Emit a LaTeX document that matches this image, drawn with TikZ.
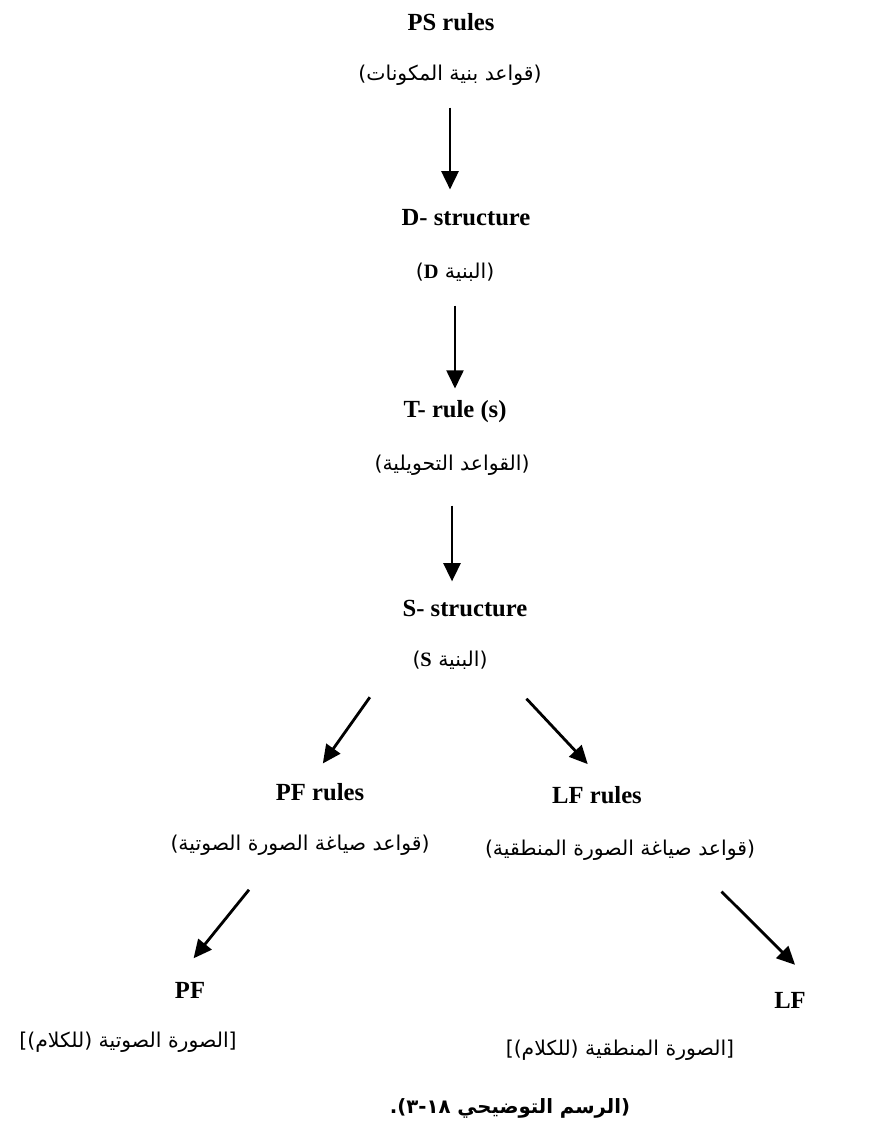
\documentclass[tikz,border=0pt]{standalone}
\usepackage{fontspec}
\setmainfont{Liberation Serif}
\newfontfamily\arabicfont[Script=Arabic]{DejaVu Sans}
\TeXXeTstate=1
\usetikzlibrary{arrows.meta, positioning, calc}

\newcommand{\lat}[1]{\beginL{\rmfamily\bfseries #1}\endL{}}

\begin{document}
\begin{tikzpicture}[
    x=0.025cm, y=-0.025cm,
    eng/.style={inner sep=0pt, font=\bfseries\fontsize{17.5}{20}\selectfont},
    ar/.style={inner sep=0pt, font=\arabicfont\fontsize{14.5}{17}\selectfont},
    arrow/.style={line width=2pt, -{Triangle[length=13pt, width=12pt]}}
]
\useasboundingbox (0,0) rectangle (894,1142);

\node (ps) [eng] at (451,22) {PS rules};
\node (psar) [ar] at (450,75) {\beginR(قواعد بنية المكونات)\endR};
\node (dstr) [eng] at (466,218) {D- structure};
\node (dar) [ar] at (455,272) {\beginR(البنية \lat{D})\endR};
\node (trule) [eng] at (455,412) {T- rule (s)};
\node (tar) [ar] at (452,465) {\beginR(القواعد التحويلية)\endR};
\node (sstr) [eng] at (465,608) {S- structure};
\node (sar) [ar] at (450,660) {\beginR(البنية \lat{S})\endR};

\node (pfr) [eng] at (320,792) {PF rules};
\node (pfar) [ar] at (300,845) {\beginR(قواعد صياغة الصورة الصوتية)\endR};
\node (lfr) [eng] at (597,795) {LF rules};
\node (lfar) [ar] at (620,850) {\beginR(قواعد صياغة الصورة المنطقية)\endR};

\node (pf) [eng] at (190,990) {PF};
\node (pfbr) [ar] at (128,1042) {\beginR[الصورة الصوتية (للكلام)]\endR};
\node (lf) [eng] at (790,1000) {LF};
\node (lfbr) [ar] at (620,1050) {\beginR[الصورة المنطقية (للكلام)]\endR};

\node (cap) [ar, font=\arabicfont\bfseries\fontsize{14}{17}\selectfont] at (510,1108)
    {\beginR(الرسم التوضيحي ١٨-٣).\endR};

\draw [arrow, shorten <=0.55cm, shorten >=0.5cm] (psar.south) -- (psar.south |- dstr.north);
\draw [arrow, shorten <=0.6cm, shorten >=0.3cm] (dar.south) -- (dar.south |- trule.north);
\draw [arrow, shorten <=0.75cm, shorten >=0.45cm] (tar.south) -- (tar.south |- sstr.north);
\draw [arrow, shorten <=0.85cm, shorten >=0.6cm] ($(sar.south)!1.6!(sar.south west)$) -- ($(pfr.north)!0.25!(pfr.north west)$);
\draw [arrow, shorten <=1cm, shorten >=0.75cm] ($(sar.south)!1.3!(sar.south east)$) -- ($(lfr.north)!0.25!(lfr.north east)$);
\draw [arrow, shorten <=1.1cm, shorten >=0.75cm] ($(pfar.south)!0.18!(pfar.south west)$) -- (pf.north west);
\draw [arrow, shorten <=1.1cm, shorten >=0.95cm] ($(lfar.south)!0.52!(lfar.south east)$) -- ($(lf.north)!2!(lf.north east)$);
\end{tikzpicture}
\end{document}
